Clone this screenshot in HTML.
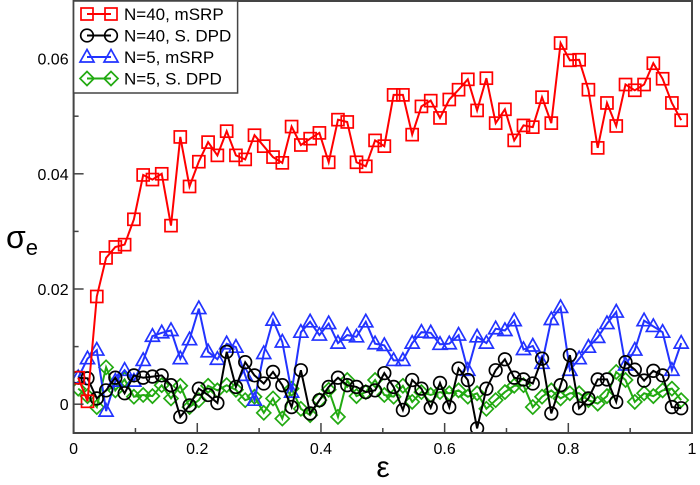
<!DOCTYPE html>
<html><head><meta charset="utf-8"><style>
body{margin:0;background:#fff;}
svg{display:block;font-family:"Liberation Sans",sans-serif;}
</style></head><body>
<svg id="chart" width="700" height="485" xmlns="http://www.w3.org/2000/svg"></svg>
<script>
const redVals=[0.0046,0.0005,0.0187,0.0254,0.0273,0.0277,0.0321,0.0398,0.039,0.040,0.031,0.0464,0.0378,0.0421,0.0455,0.0432,0.0474,0.0432,0.0425,0.0467,0.0448,0.0429,0.0419,0.0482,0.045,0.0461,0.0471,0.042,0.0494,0.049,0.042,0.0413,0.0458,0.0448,0.0537,0.0537,0.0468,0.0517,0.0527,0.0497,0.0529,0.0546,0.0564,0.051,0.0566,0.0488,0.0512,0.0458,0.0484,0.0481,0.0533,0.0488,0.0627,0.0597,0.0598,0.0546,0.0445,0.0523,0.0483,0.0555,0.0545,0.0555,0.0592,0.0565,0.0523,0.0493];
const blackVals=[0.0046,0.0045,0.001,0.0024,0.0046,0.0019,0.005,0.0046,0.0048,0.005,0.0033,-0.0022,-0.0002,0.0027,0.0016,0.0002,0.0091,0.003,0.0073,0.005,0.0036,0.0056,0.0033,-0.0005,0.0059,-0.0016,0.0007,0.003,0.0046,0.0033,0.003,0.0021,0.0024,0.0054,0.003,-0.001,0.0042,0.0027,-0.0006,0.0037,-0.0005,0.0062,0.0042,-0.0042,0.0027,0.0059,0.0078,0.0046,0.0043,0.0036,0.0079,-0.0016,0.0033,0.0085,-0.0007,0.001,0.0043,0.0043,0.0004,0.0073,0.006,0.0041,0.0058,0.005,-0.0005,-0.0007];
const blueVals=[0.0046,0.0079,0.0094,-0.0012,0.004,0.0059,0.004,0.0076,0.0118,0.0124,0.0128,0.0079,0.0112,0.0166,0.0091,0.0078,0.0105,0.0099,0.005,0.0007,0.0088,0.0146,0.0108,0.0021,0.0125,0.0143,0.012,0.014,0.0106,0.012,0.0117,0.0143,0.0105,0.0102,0.0076,0.0076,0.0106,0.0125,0.0124,0.0104,0.0105,0.012,0.0059,0.0117,0.0106,0.0131,0.0128,0.0145,0.0095,0.0101,0.0071,0.0147,0.0168,0.0059,0.0079,0.0099,0.0116,0.014,0.016,0.0068,0.0094,0.0145,0.0135,0.0125,0.0059,0.0106];
const greenVals=[0.0027,0.0014,-0.0005,0.0064,0.0024,0.0043,0.0013,0.0016,0.0014,0.0033,0.001,0.0032,-0.0005,0.0007,0.0032,0.0024,0.0033,0.0025,0.0007,0.0013,-0.0015,0.001,-0.0025,0.0027,-0.0008,-0.0019,0.0007,0.0025,-0.0022,0.0042,0.0014,0.0021,0.0042,0.0016,0.0013,0.0032,0.0004,0.0021,0.0016,0.0021,0.0019,0.0024,0.0013,0.0019,-0.0008,0.0007,0.0021,0.0032,0.0033,-0.0005,0.0013,0.0024,0.001,0.0019,0.0019,0.0007,0.0001,0.0014,0.0056,0.0042,0.0004,0.0019,0.0014,0.0024,0.0027,0.0007];
const xStart=0.0075, xStep=0.015;
const xTicks=[0,0.2,0.4,0.6,0.8,1];
const xTickLabels=["0","0.2","0.4","0.6","0.8","1"];
const yTicks=[0,0.02,0.04,0.06];
const yTickLabels=["0","0.02","0.04","0.06"];
const legendLabels=["N=40, mSRP","N=40, S. DPD","N=5, mSRP","N=5, S. DPD"];

const NS="http://www.w3.org/2000/svg";
const svg=document.getElementById('chart');
const L=73.6,R=692,T=1,B=433, xMin=0,xMax=1,yMin=-0.005,yMax=0.07;
const sx=v=>L+(v-xMin)/(xMax-xMin)*(R-L);
const sy=v=>B-(v-yMin)/(yMax-yMin)*(B-T);
function el(tag,attrs,parent){const e=document.createElementNS(NS,tag);for(const k in attrs)e.setAttribute(k,attrs[k]);(parent||svg).appendChild(e);return e;}

const clip=el('clipPath',{id:'clip'});el('rect',{x:L,y:T,width:R-L,height:B-T},clip);
const plot=el('g',{'clip-path':'url(#clip)'});



function marker(shape,x,y,color,g){
  let m;
  if(shape==='square') m=el('rect',{x:x-6,y:y-6,width:12,height:12,fill:'none',stroke:color,'stroke-width':1.7},g);
  else if(shape==='circle') m=el('circle',{cx:x,cy:y,r:6.3,fill:'none',stroke:color,'stroke-width':1.7},g);
  else if(shape==='triangle') m=el('polygon',{points:`${x},${y-7.5} ${x-7},${y+5} ${x+7},${y+5}`,fill:'none',stroke:color,'stroke-width':1.7},g);
  else m=el('polygon',{points:`${x},${y-7} ${x+7},${y} ${x},${y+7} ${x-7},${y}`,fill:'none',stroke:color,'stroke-width':1.7},g);
  return m;
}
const series=[
  {vals:greenVals,color:'#22aa11',shape:'diamond',name:'series-n5-sdpd'},
  {vals:blueVals,color:'#2233ff',shape:'triangle',name:'series-n5-msrp'},
  {vals:blackVals,color:'#000000',shape:'circle',name:'series-n40-sdpd'},
  {vals:redVals,color:'#ff0000',shape:'square',name:'series-n40-msrp'}
];
series.forEach(s=>{
  const g=el('g',{},plot);
  
  
  const pts=s.vals.map((v,i)=>`${sx(xStart+xStep*i).toFixed(1)},${sy(v).toFixed(1)}`).join(' ');
  el('polyline',{points:pts,fill:'none',stroke:s.color,'stroke-width':2},g);
  s.vals.forEach((v,i)=>{
    const m=marker(s.shape,sx(xStart+xStep*i),sy(v),s.color,g);
    
    
  });
});

const frame=el('rect',{x:L,y:T,width:R-L,height:B-T,fill:'none',stroke:'#444','stroke-width':2});


xTicks.forEach((t,i)=>{
  el('line',{x1:sx(t),x2:sx(t),y1:B,y2:B-10,stroke:'#444','stroke-width':1.5});
  if(i<xTicks.length-1) el('line',{x1:sx(t+0.1),x2:sx(t+0.1),y1:B,y2:B-5,stroke:'#444','stroke-width':1.5});
  const tx=el('text',{x:sx(t),y:B+21,'text-anchor':'middle','font-size':16,fill:'#000'});
  tx.textContent=xTickLabels[i];
  
  
});
yTicks.forEach((t,i)=>{
  el('line',{x1:L,x2:L+10,y1:sy(t),y2:sy(t),stroke:'#444','stroke-width':1.5});
  el('line',{x1:L,x2:L+5,y1:sy(t+0.01),y2:sy(t+0.01),stroke:'#444','stroke-width':1.5});
  const tx=el('text',{x:L-5,y:sy(t)+6,'text-anchor':'end','font-size':16,fill:'#000'});
  tx.textContent=yTickLabels[i];
  
  
});
const xt=el('text',{x:383,y:477,'text-anchor':'middle','font-size':30,fill:'#000'});
xt.textContent='ε';


const yt=el('text',{x:6,y:248,'font-size':32,fill:'#000'});
yt.innerHTML='σ<tspan font-size="22" dy="7">e</tspan>';



const lg=el('g',{});


el('rect',{x:L,y:T,width:164,height:92,fill:'#fff',stroke:'#444','stroke-width':1.5},lg);
const legendOrder=[3,2,1,0];
legendOrder.forEach((si,k)=>{
  const s=series[si];const y=14+k*21.5;
  const e=el('g',{},lg);
  
  
  el('line',{x1:87,x2:111,y1:y,y2:y,stroke:s.color,'stroke-width':2},e);
  marker(s.shape,87,y,s.color,e);marker(s.shape,111,y,s.color,e);
  const t=el('text',{x:124,y:y+6,'font-size':17,fill:'#000'},e);
  t.textContent=legendLabels[k];
});
</script>
</body></html>
